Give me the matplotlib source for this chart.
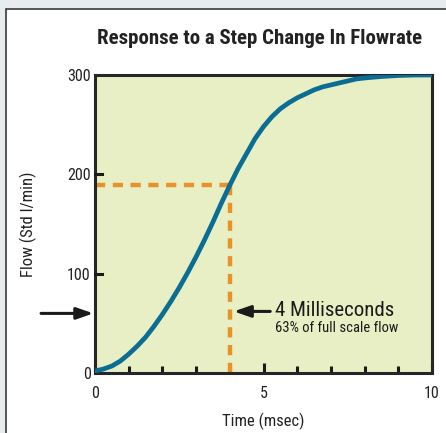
import matplotlib
matplotlib.use("Agg")
import matplotlib.pyplot as plt
from matplotlib.patches import Rectangle
from matplotlib.ticker import FixedLocator

# Data
time_ms = [0, 0.25, 0.5, 0.75, 1, 1.25, 1.5, 1.75, 2, 2.25, 2.5, 2.75, 3, 3.25, 3.5, 3.75,
           4, 4.25, 4.5, 4.75, 5, 5.25, 5.5, 5.75, 6, 6.25, 6.5, 6.75, 7, 7.25, 7.5, 7.75,
           8, 8.5, 9, 9.5, 10]
flow = [2, 4, 7, 12, 19, 27, 36, 47, 59, 72, 86, 101, 117, 134, 152, 171,
        189, 206, 221, 236, 248, 258, 266, 272, 277, 281, 285, 288, 290, 292, 294, 296,
        297, 298.5, 299.5, 300, 300]
marker_time = 4
marker_flow = 189
x_ticks = [0, 5, 10]
y_ticks = [0, 100, 200, 300]
title = "Response to a Step Change In Flowrate"
xlabel = "Time (msec)"
ylabel = "Flow (Std l/min)"
note_main = "4 Milliseconds"
note_sub = "63% of full scale flow"
arrow_flow = 60

W, H = 446, 433
fig = plt.figure(figsize=(W/100, H/100), dpi=100)
fig.patch.set_facecolor("#e7ecee")
fig.patches.append(Rectangle((6/W, -0.1), 1.2, 1.1 - 9/H, transform=fig.transFigure,
                             facecolor="white", edgecolor="#3a3a3a", lw=1.2, zorder=-5))

cond = ["Roboto Condensed", "Liberation Sans Narrow", "DejaVu Sans"]

ax = fig.add_axes([95/W, 1 - 373/H, (432-95)/W, (373-75)/H])
ax.set_facecolor("#e8efc4")
ax.set_xlim(0, 10)
ax.set_ylim(0, 300)

ax.plot([0, marker_time], [marker_flow, marker_flow], color="#e8922a", lw=3.2,
        dashes=(2.3, 1.7), zorder=2)
ax.plot([marker_time, marker_time], [marker_flow, 0], color="#e8922a", lw=3.2,
        dashes=(2.3, 1.7), zorder=2)
ax.plot(time_ms, flow, color="#0a6d93", lw=3.4, zorder=3, solid_capstyle="round",
        solid_joinstyle="round")

for s in ax.spines.values():
    s.set_linewidth(2.2)
    s.set_color("#262626")

ax.xaxis.set_major_locator(FixedLocator(x_ticks))
ax.xaxis.set_minor_locator(FixedLocator([1, 2, 3, 4, 6, 7, 8, 9]))
ax.yaxis.set_major_locator(FixedLocator(y_ticks))
ax.tick_params(axis="x", which="major", direction="in", length=7, width=2.2, color="#1a1a1a", pad=9)
ax.tick_params(axis="x", which="minor", direction="in", length=5, width=2.2, color="#1a1a1a")
ax.tick_params(axis="y", which="major", direction="out", length=0, pad=3)
for yv in [100, 200]:
    ax.plot([0.0, 0.22], [yv, yv], color="#1a1a1a", lw=2.2, clip_on=False, zorder=4)
for lab in ax.get_xticklabels() + ax.get_yticklabels():
    lab.set_fontfamily(cond)
    lab.set_fontsize(11.5)
    lab.set_color("#222222")

ax.set_xlabel(xlabel, fontsize=12, family=cond, color="#222222", labelpad=9)
ax.set_ylabel(ylabel, fontsize=12, family=cond, color="#222222", labelpad=22)

fig.text(260/W, 1 - 38/H, title, ha="center", va="center", fontsize=15,
         fontweight="bold", family=cond, color="#222222")

# arrows
ax.annotate("", xy=(-0.05, arrow_flow), xytext=(-1.6, arrow_flow),
            xycoords="data", annotation_clip=False,
            arrowprops=dict(arrowstyle="-|>,head_length=1.0,head_width=0.35",
                            color="#1a1a1a", lw=2.2, shrinkA=0, shrinkB=0))
ax.annotate("", xy=(marker_time + 0.12, 62), xytext=(marker_time + 1.2, 62),
            arrowprops=dict(arrowstyle="-|>,head_length=1.0,head_width=0.35",
                            color="#1a1a1a", lw=2.2, shrinkA=0, shrinkB=0))
ax.text(marker_time + 1.35, 63, note_main, fontsize=15, family=cond, va="center", color="#1a1a1a")
ax.text(marker_time + 1.35, 45, note_sub, fontsize=10.5, family=cond, va="center", color="#1a1a1a")

fig.savefig("out.png", dpi=100, facecolor=fig.get_facecolor())
